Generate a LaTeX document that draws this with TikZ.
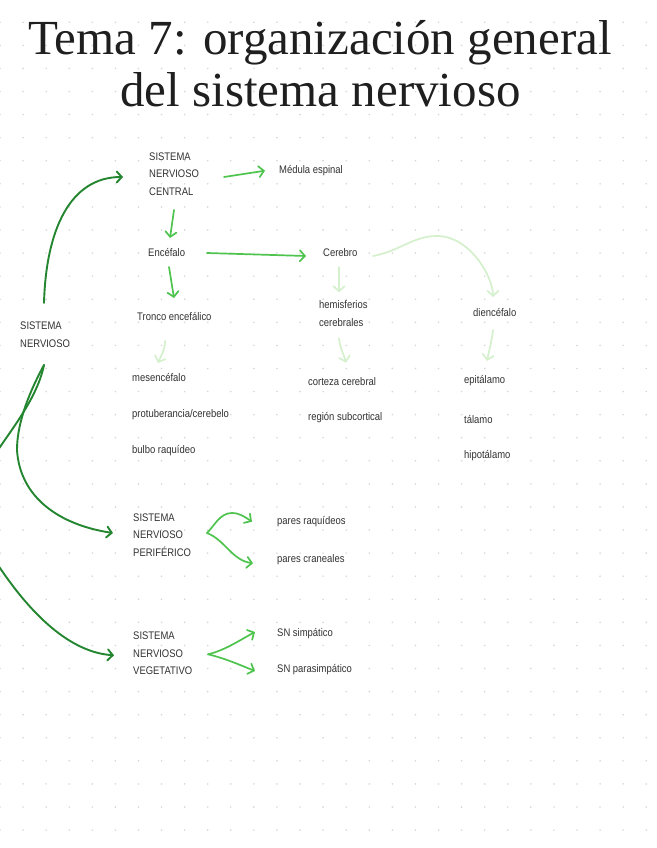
\documentclass[tikz,border=0pt]{standalone}
\usepackage{fontspec}
\setmainfont{Liberation Serif}
\newfontfamily\handfont[FakeStretch=0.86]{Liberation Sans}
\usetikzlibrary{arrows.meta}
\definecolor{dotcol}{RGB}{215,215,215}
\definecolor{darkg}{RGB}{36,134,48}
\definecolor{brightg}{RGB}{78,196,78}
\definecolor{paleg}{RGB}{212,240,205}
\definecolor{inkc}{RGB}{50,50,50}
\tikzset{
  hand/.style={font=\handfont\fontsize{11}{17.5}\selectfont, text=inkc, inner sep=0pt, anchor=west, align=left},
  titletext/.style={font=\fontsize{49}{52}\selectfont, text=black!88, inner sep=0, anchor=base},
  darrow/.style={draw=darkg, line width=1.9pt, line cap=round, -{Straight Barb[length=5pt,width=11pt,line cap=round]}},
  barrow/.style={draw=brightg, line width=1.7pt, line cap=round, -{Straight Barb[length=5pt,width=11pt,line cap=round]}},
  parrow/.style={draw=paleg, line width=1.7pt, line cap=round, -{Straight Barb[length=5pt,width=11pt,line cap=round]}},
}
\begin{document}
\begin{tikzpicture}[x=1pt,y=-1pt]
\useasboundingbox (0,0) rectangle (656,848);
\fill[white] (0,0) rectangle (656,848);
\foreach \i in {0,...,28} {\foreach \j in {0,...,36} {\fill[dotcol] (\i*23.08,\j*23.08-0.8) circle (0.9);}}
% title
\node[titletext] (title1) at (320,55) {Tema 7: organización general};
\node[titletext] (title2) at (320.5,107) {del sistema nervioso};
% nodes
\node[hand] (root) at (20,334.5) {SISTEMA\\NERVIOSO};
\node[hand] (snc) at (149,174) {SISTEMA\\NERVIOSO\\CENTRAL};
\node[hand] (med) at (279,170.7) {Médula espinal};
\node[hand] (enc) at (148,253) {Encéfalo};
\node[hand] (cer) at (323,253) {Cerebro};
\node[hand] (tronco) at (137,317) {Tronco encefálico};
\node[hand] (hem) at (319,313.4) {hemisferios\\cerebrales};
\node[hand] (die) at (473,313) {diencéfalo};
\node[hand] (mes) at (132,377) {mesencéfalo};
\node[hand] (pro) at (132,415) {protuberancia/cerebelo};
\node[hand] (bul) at (132,451) {bulbo raquídeo};
\node[hand] (cor) at (308,381.7) {corteza cerebral};
\node[hand] (reg) at (308,417.7) {región subcortical};
\node[hand] (epi) at (464,381) {epitálamo};
\node[hand] (tal) at (464,419) {tálamo};
\node[hand] (hip) at (464,456) {hipotálamo};
\node[hand] (snp) at (133,535) {SISTEMA\\NERVIOSO\\PERIFÉRICO};
\node[hand] (raq) at (277,521.7) {pares raquídeos};
\node[hand] (cra) at (277,559.3) {pares craneales};
\node[hand] (snv) at (133,653.3) {SISTEMA\\NERVIOSO\\VEGETATIVO};
\node[hand] (simp) at (277,634) {SN simpático};
\node[hand] (para) at (277,670) {SN parasimpático};
% dark root connectors
\draw[darrow] ([shift={(24,-31.5)}]root.west) .. controls +(2,-73) and +(-53,0) .. ([shift={(-26,3)}]snc.west);
\draw[darrow] ([shift={(24,30.5)}]root.west) .. controls +(-19,35) and +(0,-22) .. ++(-27,85) coordinate (rootmid)
   .. controls +(3,48) and +(-53,-8) .. ([shift={(-20,-2)}]snp.west);
\begin{scope}
\clip (0,0) rectangle (656,848);
\draw[darrow] ([shift={(24,30.5)}]root.west) .. controls +(-6,30) and +(15,-22) .. (0,447) coordinate (offl1)
   .. controls (-30,486) and (-30,530) .. (0,568) coordinate (offl2)
   .. controls (25,605) and (65,652) .. ([shift={(-19,2)}]snv.west);
\end{scope}
% bright connectors
\draw[barrow] ([shift={(75,3)}]snc.west) -- ([shift={(-14,0)}]med.west);
\draw[barrow] ([shift={(25,36)}]snc.west) -- ([shift={(22,-15)}]enc.west);
\draw[barrow] ([shift={(21,14)}]enc.west) -- ([shift={(37,-19)}]tronco.west);
\draw[barrow] ([shift={(59,0)}]enc.west) -- ([shift={(-17,3)}]cer.west);
\draw[barrow] ([shift={(74,-2)}]snp.west) .. controls +(8,-8) and +(-12,0) .. (232,513) coordinate (forkup)
   .. controls +(8,0) and +(-6,-4) .. ([shift={(-25,0)}]raq.west);
\draw[barrow] ([shift={(74,-2)}]snp.west) .. controls +(18,7) and +(-21,-3) .. ([shift={(-24,4)}]cra.west);
\draw[barrow] ([shift={(75,1)}]snv.west) .. controls +(17,-4) and +(-15,8) .. ([shift={(-22,-2)}]simp.west);
\draw[barrow] ([shift={(75,1)}]snv.west) .. controls +(17,4) and +(-15,-6) .. ([shift={(-22,1)}]para.west);
% pale connectors
\draw[parrow] ([shift={(16,14)}]cer.west) -- ([shift={(20,-21)}]hem.west);
\draw[parrow] ([shift={(50,3)}]cer.west) .. controls +(27,-5) and +(-24,0) .. (437,236) coordinate (peak)
   .. controls +(33,0) and +(0,-20) .. ([shift={(20,-16)}]die.west);
\draw[parrow] ([shift={(28,24)}]tronco.west) .. controls +(0,10) and +(3,-8) .. ([shift={(26,-14)}]mes.west);
\draw[parrow] ([shift={(20,25)}]hem.west) .. controls +(1,10) and +(-2,-8) .. ([shift={(38,-19)}]cor.west);
\draw[parrow] ([shift={(20,17)}]die.west) .. controls +(-1,10) and +(2,-10) .. ([shift={(23,-20)}]epi.west);
\end{tikzpicture}
\end{document}
